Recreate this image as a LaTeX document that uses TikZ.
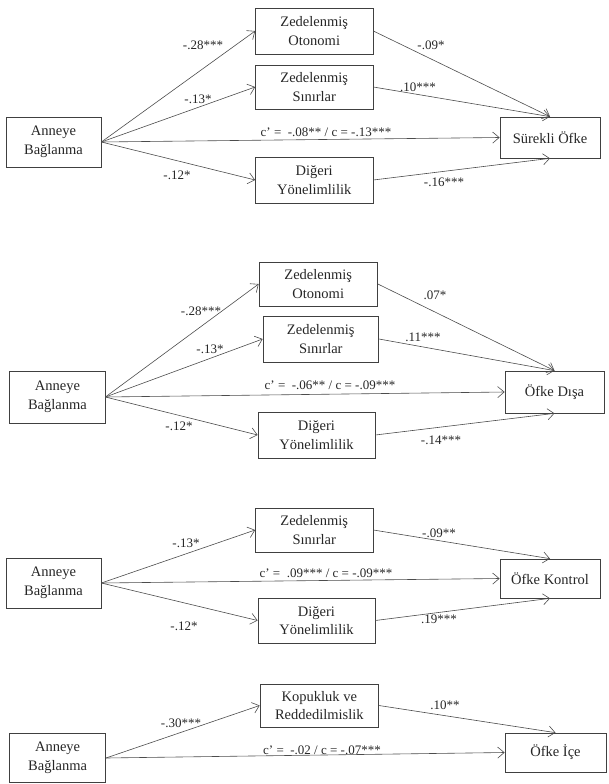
\documentclass[tikz,border=0pt]{standalone}
\usepackage{fontspec}
\setmainfont{Liberation Serif}
\usetikzlibrary{arrows.meta}
\begin{document}
\begin{tikzpicture}[x=1pt,y=-1pt,
  box/.style={draw=black!75, line width=0.7pt, align=center, inner sep=0pt,
    font=\fontsize{14.5}{18.5}\selectfont, text=black!85},
  lbl/.style={font=\fontsize{13}{15}\selectfont, inner sep=0pt, text=black!85},
  arr/.style={draw=black!70, line width=0.6pt, -{Straight Barb[length=6.5pt,width=11pt]}}]
\useasboundingbox (0,0) rectangle (609,784);
% ---------- Diagram 1
\node[box, minimum width=95pt, minimum height=50pt] (A1) at (53.5,142) {Anneye\\Bağlanma};
\node[box, minimum width=117.5pt, minimum height=46pt] (O1) at (314.25,31) {Zedelenmiş\\Otonomi};
\node[box, minimum width=117.5pt, minimum height=44pt] (S1) at (314.25,87) {Zedelenmiş\\Sınırlar};
\node[box, minimum width=117.5pt, minimum height=46pt] (D1) at (314.25,180) {Diğeri\\Yönelimlilik};
\node[box, minimum width=100pt, minimum height=41pt] (Y1) at (550,137.5) {Sürekli Öfke};
\draw[arr] (A1.east) -- (O1.west);
\draw[arr] (A1.east) -- (S1.west);
\draw[arr] (A1.east) -- (D1.west);
\draw[arr] (A1.east) -- (Y1.west);
\draw[arr] (O1.east) -- (Y1.north);
\draw[arr] (S1.east) -- (Y1.north);
\draw[arr] (D1.east) -- (Y1.south);
\node[lbl] (l11) at (203,45) {-.28***};
\node[lbl] (l12) at (198,99) {-.13*};
\node[lbl] (l13) at (177,175) {-.12*};
\node[lbl] (l14) at (326,132) {c’ =\ \ -.08** / c = -.13***};
\node[lbl] (l15) at (431,45) {-.09*};
\node[lbl] (l16) at (418,87) {.10***};
\node[lbl] (l17) at (444,182) {-.16***};
% ---------- Diagram 2
\node[box, minimum width=95.3pt, minimum height=52pt] (A2) at (57.4,397) {Anneye\\Bağlanma};
\node[box, minimum width=118.5pt, minimum height=44pt] (O2) at (318.25,284) {Zedelenmiş\\Otonomi};
\node[box, minimum width=115.6pt, minimum height=46pt] (S2) at (320.8,339) {Zedelenmiş\\Sınırlar};
\node[box, minimum width=117pt, minimum height=46pt] (D2) at (316.5,435) {Diğeri\\Yönelimlilik};
\node[box, minimum width=99pt, minimum height=42pt] (Y2) at (554.5,392) {Öfke Dışa};
\draw[arr] (A2.east) -- (O2.west);
\draw[arr] (A2.east) -- (S2.west);
\draw[arr] (A2.east) -- (D2.west);
\draw[arr] (A2.east) -- (Y2.west);
\draw[arr] (O2.east) -- (Y2.north);
\draw[arr] (S2.east) -- (Y2.north);
\draw[arr] (D2.east) -- (Y2.south);
\node[lbl] (l21) at (201,311) {-.28***};
\node[lbl] (l22) at (210,349) {-.13*};
\node[lbl] (l23) at (179,426) {-.12*};
\node[lbl] (l24) at (330,385) {c’ =\ \ -.06** / c = -.09***};
\node[lbl] (l25) at (435,295) {.07*};
\node[lbl] (l26) at (423,337) {.11***};
\node[lbl] (l27) at (441,440) {-.14***};
% ---------- Diagram 3
\node[box, minimum width=95pt, minimum height=50pt] (A3) at (53.5,583) {Anneye\\Bağlanma};
\node[box, minimum width=117.5pt, minimum height=44pt] (S3) at (314.25,530) {Zedelenmiş\\Sınırlar};
\node[box, minimum width=117pt, minimum height=45pt] (D3) at (316.5,620.5) {Diğeri\\Yönelimlilik};
\node[box, minimum width=100pt, minimum height=39pt] (Y3) at (550,578.5) {Öfke Kontrol};
\draw[arr] (A3.east) -- (S3.west);
\draw[arr] (A3.east) -- (D3.west);
\draw[arr] (A3.east) -- (Y3.west);
\draw[arr] (S3.east) -- (Y3.north);
\draw[arr] (D3.east) -- (Y3.south);
\node[lbl] (l31) at (186,543) {-.13*};
\node[lbl] (l32) at (184,626) {-.12*};
\node[lbl] (l33) at (326,573) {c’ =\ \ .09*** / c = -.09***};
\node[lbl] (l34) at (439,533) {-.09**};
\node[lbl] (l35) at (439,619) {.19***};
% ---------- Diagram 4
\node[box, minimum width=96pt, minimum height=49pt] (A4) at (57.6,758) {Anneye\\Bağlanma};
\node[box, minimum width=118.6pt, minimum height=43pt] (K4) at (319.3,705.5) {Kopukluk ve\\Reddedilmislik};
\node[box, minimum width=101pt, minimum height=39pt] (Y4) at (555.5,752.5) {Öfke İçe};
\draw[arr] (A4.east) -- (K4.west);
\draw[arr] (A4.east) -- (Y4.west);
\draw[arr] (K4.east) -- (Y4.north);
\node[lbl] (l41) at (181,723) {-.30***};
\node[lbl] (l42) at (322,750) {c’ =\ \ -.02 / c = -.07***};
\node[lbl] (l43) at (445,705) {.10**};
\end{tikzpicture}
\end{document}
